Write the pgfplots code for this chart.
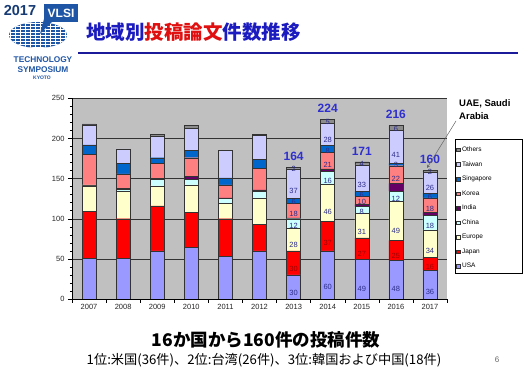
\documentclass[border=0pt]{standalone}
\usepackage{pgfplots}
\pgfplotsset{compat=1.18}
\usepackage{pgfplotstable}
\usepackage{fontspec}
\setmainfont{Liberation Sans}
\newfontfamily\cjk{Noto Sans CJK JP}

\definecolor{cUSA}{HTML}{9999FF}
\definecolor{cJapan}{HTML}{FF0000}
\definecolor{cEurope}{HTML}{FFFFCC}
\definecolor{cChina}{HTML}{CCFFFF}
\definecolor{cIndia}{HTML}{660066}
\definecolor{cKorea}{HTML}{FF8080}
\definecolor{cSing}{HTML}{0066CC}
\definecolor{cTaiwan}{HTML}{CCCCFF}
\definecolor{cOthers}{HTML}{8C8C8C}
\definecolor{plotgray}{HTML}{C0C0C0}
\definecolor{labnavy}{HTML}{2E2E8A}
\definecolor{labred}{HTML}{A00000}
\definecolor{totblue}{HTML}{2F2FCF}
\definecolor{titleblue}{HTML}{1B1BC0}
\definecolor{titlered}{HTML}{E01010}
\definecolor{lineblue}{HTML}{1A1A9A}
\definecolor{logoblue}{HTML}{1F55A5}

\pgfplotstableread{
x USA Japan Europe China India Korea Singapore Taiwan Others LU LJ LE LC LK LS LT LO
0 51 58 32 1 0 38 12 25 1 {} {} {} {} {} {} {} {}
1 51 49 34 3 1 18 13 18 0 {} {} {} {} {} {} {} {}
2 60 56 25 8 1 19 7 27 2 {} {} {} {} {} {} {} {}
3 64 44 34 7 4 23 9 28 3 {} {} {} {} {} {} {} {}
4 53 47 19 6 1 16 9 34 0 {} {} {} {} {} {} {} {}
5 60 33 33 8 2 27 11 30 1 {} {} {} {} {} {} {} {}
6 30 30 28 12 1 18 6 37 2 30 30 28 12 18 6 37 2
7 60 37 46 16 3 21 8 28 5 60 37 46 16 21 8 28 5
8 49 27 31 8 3 10 6 33 4 49 27 31 8 10 6 33 4
9 48 25 49 12 10 22 3 41 6 48 25 49 12 22 3 41 6
10 36 16 34 18 4 18 6 26 2 36 16 34 18 18 6 26 2
}\data

\pgfplotstableread{
x Tot
6 164
7 224
8 171
9 216
10 160
}\totals

\pgfplotsset{
  chartframe/.style={
    at={(72pt,78pt)}, anchor=south west,
    scale only axis, width=375pt, height=200.7pt,
    xmin=-0.5, xmax=10.5, ymin=0, ymax=250,
    enlargelimits=false,
  },
}

\begin{document}
\begin{tikzpicture}[x=1pt,y=1pt]
\path[use as bounding box, fill=white] (0,0) rectangle (530,377);

% ---- logo ----
\node[font=\bfseries\fontsize{14.5}{14.5}\selectfont, text=logoblue!70!black] at (20,366) {2017};
\begin{scope}
\clip (38,342) ellipse (29 and 13);
\fill[logoblue] (6,325) rectangle (70,358);
\foreach \yy in {-12,-9,...,12} \draw[white, line width=0.45] (6,342+\yy) -- (70,342+\yy);
\foreach \xx in {-28,-23,...,30} \draw[white, line width=0.45] (38+\xx,325) -- (38+\xx,358);
\end{scope}
\fill[logoblue] (44,373) rectangle (78,355);
\fill[logoblue] (44,358) -- (52,355) -- (40,343) -- cycle;
\node[font=\bfseries\fontsize{12}{12}\selectfont, text=white] at (61,364) {VLSI};
\node[font=\bfseries\fontsize{8.3}{8.3}\selectfont, text=logoblue] at (43,317) {TECHNOLOGY};
\node[font=\bfseries\fontsize{8.3}{8.3}\selectfont, text=logoblue] at (43,307) {SYMPOSIUM};
\node[font=\bfseries\fontsize{5}{5}\selectfont, text=logoblue] at (42,299) {KYOTO};

% ---- title ----
\node[anchor=west, font=\cjk\bfseries\fontsize{19.5}{19.5}\selectfont, inner sep=0pt] at (86,345)
  {\textcolor{titleblue}{地域別}\textcolor{titlered}{投稿論文}\textcolor{titleblue}{件数推移}};
\draw[lineblue, line width=1.6] (78,324) -- (518,324);

% ---- chart ----
\begin{axis}[
  chartframe,
  ybar stacked, bar width=14pt,
  axis lines=left, axis line style={-, black},
  axis background/.style={fill=plotgray},
  tick align=outside,
  xtick={-0.5,0.5,...,10.5}, xticklabels={,,,,,,,,,,,},
  extra x ticks={0,1,...,10},
  extra x tick labels={2007,2008,2009,2010,2011,2012,2013,2014,2015,2016,2017},
  extra x tick style={major tick length=0pt, xticklabel style={yshift=-2pt}},
  ytick={0,50,...,250}, minor y tick num=4,
  major tick length=4pt, minor tick length=2pt,
  tick style={black, line width=0.4pt},
  ymajorgrids, grid style={black!80, line width=0.4pt},
  tick label style={font=\fontsize{7.5}{7.5}\selectfont, text=black!85},
  /pgf/number format/assume math mode=true,
  every axis plot/.append style={draw=black!80, line width=0.4pt},
  visualization depends on=rawy \as \segh,
  every node near coord/.append style={anchor=center, yshift=-0.2007*\segh,
      font=\fontsize{7.5}{7.5}\selectfont, text=labnavy, inner sep=0pt},
  reverse legend,
  legend image code/.code={\draw[#1, draw=black!80, line width=0.3pt] (0pt,-1.8pt) rectangle (3.6pt,1.8pt);},
  legend style={at={(1.0213,0.775)}, anchor=north west, draw=none, fill=none,
    font=\fontsize{6.5}{7}\selectfont, row sep=4.45pt, inner sep=1pt},
  legend cell align=left,
]
\addplot[fill=cUSA, nodes near coords, point meta=explicit symbolic] table[x=x, y=USA, meta=LU] {\data};
\addplot[fill=cJapan, nodes near coords, point meta=explicit symbolic, nodes near coords style={text=labred}] table[x=x, y=Japan, meta=LJ] {\data};
\addplot[fill=cEurope, nodes near coords, point meta=explicit symbolic] table[x=x, y=Europe, meta=LE] {\data};
\addplot[fill=cChina, nodes near coords, point meta=explicit symbolic] table[x=x, y=China, meta=LC] {\data};
\addplot[fill=cIndia] table[x=x, y=India] {\data};
\addplot[fill=cKorea, nodes near coords, point meta=explicit symbolic] table[x=x, y=Korea, meta=LK] {\data};
\addplot[fill=cSing, nodes near coords, point meta=explicit symbolic] table[x=x, y=Singapore, meta=LS] {\data};
\addplot[fill=cTaiwan, nodes near coords, point meta=explicit symbolic] table[x=x, y=Taiwan, meta=LT] {\data};
\addplot[fill=cOthers, nodes near coords, point meta=explicit symbolic] table[x=x, y=Others, meta=LO] {\data};
\legend{USA,Japan,Europe,China,India,Korea,Singapore,Taiwan,Others}
\end{axis}

% totals above bars
\begin{axis}[chartframe, hide axis]
\addplot[only marks, mark=none, nodes near coords, point meta=explicit symbolic,
  nodes near coords style={anchor=south, yshift=3pt,
    font=\bfseries\fontsize{12}{12}\selectfont, text=totblue}]
  table[x=x, y=Tot, meta=Tot] {\totals};
\end{axis}

% legend frame
\draw[black, line width=0.6] (455,238) rectangle (522,104);

% annotation
\node[anchor=west, font=\bfseries\fontsize{9.5}{9.5}\selectfont, inner sep=0pt] at (459,273) {UAE, Saudi};
\node[anchor=west, font=\bfseries\fontsize{9.5}{9.5}\selectfont, inner sep=0pt] at (459,261) {Arabia};
\draw[black!60, line width=0.5, -stealth] (456,256) -- (427,209);

% bottom text
\node[font=\cjk\bfseries\fontsize{17.5}{17.5}\selectfont] at (266,37) {16か国から160件の投稿件数};
\node[font=\cjk\fontsize{13.2}{13.2}\selectfont] at (264,17) {1位:米国(36件)、2位:台湾(26件)、3位:韓国および中国(18件)};
\node[font=\fontsize{8}{8}\selectfont, text=black!60] at (497,17) {6};
\end{tikzpicture}
\end{document}
